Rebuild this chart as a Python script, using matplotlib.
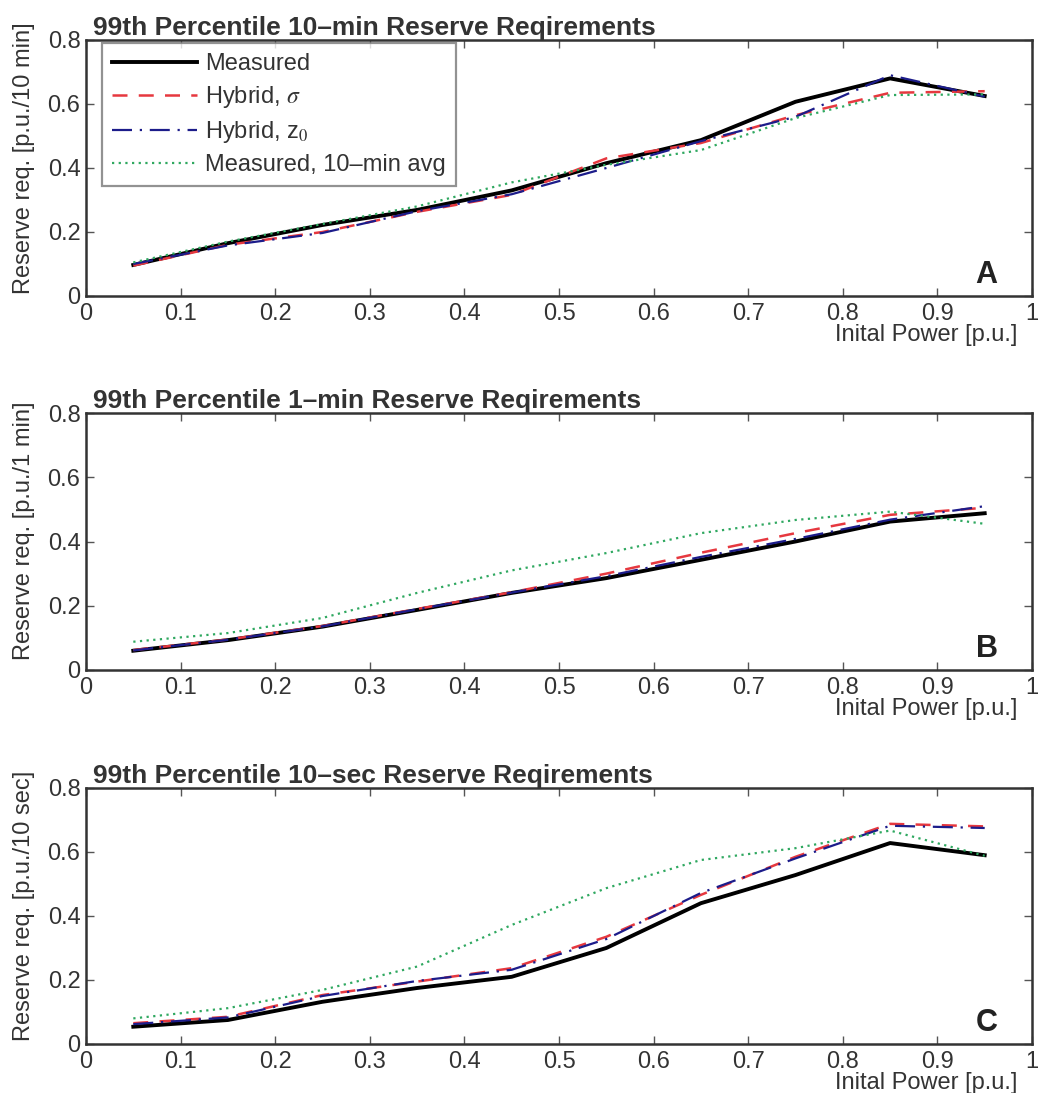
import matplotlib
matplotlib.use("Agg")
import matplotlib.pyplot as plt
import numpy as np

plt.rcParams['font.family'] = ['Liberation Sans', 'DejaVu Sans']
plt.rcParams['mathtext.fontset'] = 'stix'

# Initial power bins (p.u.)
power = [0.05, 0.15, 0.25, 0.35, 0.45, 0.55, 0.65, 0.75, 0.85, 0.95]

# 10-min reserve requirements
a_measured = [0.097, 0.165, 0.222, 0.269, 0.330, 0.415, 0.487, 0.607, 0.680, 0.625]
a_hyb_sigma = [0.095, 0.160, 0.200, 0.263, 0.316, 0.430, 0.478, 0.565, 0.635, 0.640]
a_hyb_z0 = [0.100, 0.158, 0.197, 0.265, 0.318, 0.400, 0.484, 0.560, 0.690, 0.623]
a_avg = [0.105, 0.170, 0.225, 0.280, 0.355, 0.410, 0.456, 0.556, 0.628, 0.630]

# 1-min reserve requirements
b_measured = [0.060, 0.093, 0.135, 0.187, 0.240, 0.286, 0.343, 0.400, 0.462, 0.488]
b_hyb_sigma = [0.062, 0.095, 0.137, 0.190, 0.242, 0.300, 0.365, 0.426, 0.483, 0.505]
b_hyb_z0 = [0.061, 0.094, 0.136, 0.189, 0.241, 0.292, 0.352, 0.408, 0.468, 0.510]
b_avg = [0.088, 0.115, 0.162, 0.240, 0.310, 0.364, 0.426, 0.467, 0.493, 0.455]

# 10-sec reserve requirements
c_measured = [0.054, 0.075, 0.132, 0.175, 0.210, 0.300, 0.440, 0.528, 0.628, 0.590]
c_hyb_sigma = [0.065, 0.085, 0.153, 0.195, 0.237, 0.335, 0.466, 0.585, 0.688, 0.680]
c_hyb_z0 = [0.062, 0.083, 0.150, 0.197, 0.232, 0.328, 0.472, 0.580, 0.682, 0.675]
c_avg = [0.080, 0.112, 0.169, 0.242, 0.372, 0.487, 0.575, 0.612, 0.667, 0.588]

titles = ["99th Percentile 10\u2013min Reserve Reqirements",
          "99th Percentile 1\u2013min Reserve Reqirements",
          "99th Percentile 10\u2013sec Reserve Reqirements"]
ylabels = ["Reserve req. [p.u./10 min]",
           "Reserve req. [p.u./1 min]",
           "Reserve req. [p.u./10 sec]"]
panel_tags = ["A", "B", "C"]
xticks = [0, 0.1, 0.2, 0.3, 0.4, 0.5, 0.6, 0.7, 0.8, 0.9, 1]
xticklabels = ["0", "0.1", "0.2", "0.3", "0.4", "0.5", "0.6", "0.7", "0.8", "0.9", "1"]
yticks = [0, 0.2, 0.4, 0.6, 0.8]
yticklabels = ["0", "0.2", "0.4", "0.6", "0.8"]

series_sets = [
    (a_measured, a_hyb_sigma, a_hyb_z0, a_avg),
    (b_measured, b_hyb_sigma, b_hyb_z0, b_avg),
    (c_measured, c_hyb_sigma, c_hyb_z0, c_avg),
]

W, H = 1039, 1093
fig = plt.figure(figsize=(W / 100, H / 100), dpi=100)

left, right = 86 / W, 1032 / W
boxes = [(40, 296), (413, 670), (788, 1044)]

text_col = '#333333'
for i, (top_px, bot_px) in enumerate(boxes):
    ax = fig.add_axes([left, 1 - bot_px / H, right - left, (bot_px - top_px) / H])
    meas, hs, hz, avg = series_sets[i]
    ax.plot(power, meas, color='black', lw=2.8, label='Measured', zorder=3)
    ax.plot(power, hs, color='#e6383f', lw=1.8, ls=(0, (6, 4.5)), label=r'Hybrid, $\sigma$', zorder=4)
    ax.plot(power, hz, color='#1c1c8a', lw=1.6, ls=(0, (9, 3.5, 1, 3.5)), label=r'Hybrid, z$_0$', zorder=4)
    ax.plot(power, avg, color='#2fa860', lw=1.6, ls=(0, (1, 2)), label='Measured, 10\u2013min avg', zorder=5)

    ax.set_xlim(0, 1)
    ax.set_ylim(0, 0.8)
    ax.set_xticks(xticks)
    ax.set_xticklabels(xticklabels)
    ax.set_yticks(yticks)
    ax.set_yticklabels(yticklabels)
    ax.tick_params(direction='in', top=True, right=True, length=6, width=1,
                   labelsize=17, labelcolor=text_col, color='#555555')
    ax.tick_params(axis='x', pad=5)
    ax.tick_params(axis='y', pad=4)
    for sp in ax.spines.values():
        sp.set_linewidth(1.8)
        sp.set_color('#333333')

    ax.set_title(titles[i], loc='left', fontsize=19, fontweight='bold',
                 color=text_col, pad=3.5, x=0.007)
    ax.set_ylabel(ylabels[i], fontsize=17, color=text_col)
    ax.yaxis.set_label_coords(-0.0655, 0.54)
    ax.yaxis.label.set_va('center')
    ax.set_xlabel("Inital Power [p.u.]", fontsize=17, color=text_col, ha='right')
    ax.xaxis.set_label_coords(0.985, -0.11)
    ax.xaxis.label.set_va('top')
    ax.text(0.952, 0.05, panel_tags[i], transform=ax.transAxes, fontsize=22,
            fontweight='bold', color='#222222', ha='center', va='baseline')

    if i == 0:
        leg = ax.legend(loc='upper left', bbox_to_anchor=(0.017, 0.988), fontsize=17,
                        frameon=True, fancybox=False, handlelength=3.6,
                        borderpad=0.42, labelspacing=0.38, handletextpad=0.35,
                        borderaxespad=0.0)
        leg.get_frame().set_edgecolor('#777777')
        leg.get_frame().set_linewidth(1.6)
        for t in leg.get_texts():
            t.set_color(text_col)

fig.savefig("out.png", dpi=100)
